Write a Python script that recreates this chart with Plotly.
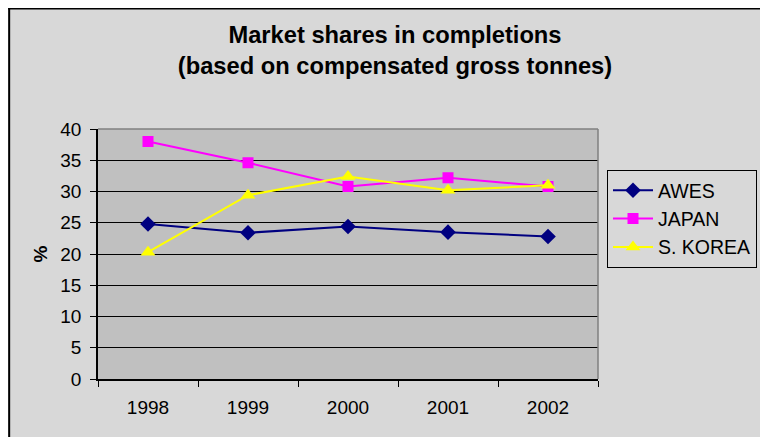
import plotly.graph_objects as go

years = ["1998", "1999", "2000", "2001", "2002"]
awes = [24.8, 23.4, 24.4, 23.5, 22.8]
japan = [38.0, 34.6, 30.8, 32.2, 30.8]
skorea = [20.3, 29.4, 32.4, 30.2, 31.0]
y_ticks = [0, 5, 10, 15, 20, 25, 30, 35, 40]

# page has an 8px body margin; figure sized so it ends at the window edge
W, H = 760, 429
L, R, T, B = 90, 169, 121, 58
PW, PH = W - L - R, H - T - B

def px_x(x):
    return (x - L) / PW

def px_y(y):
    return (H - B - y) / PH

FONT = "Liberation Sans, Arial, sans-serif"

fig = go.Figure()
fig.add_trace(go.Scatter(x=years, y=awes, name="AWES", mode="lines+markers",
                         line=dict(color="#000080", width=2),
                         marker=dict(symbol="diamond", size=12, color="#000080")))
fig.add_trace(go.Scatter(x=years, y=japan, name="JAPAN", mode="lines+markers",
                         line=dict(color="#FF00FF", width=2),
                         marker=dict(symbol="square", size=11, color="#FF00FF")))
fig.add_trace(go.Scatter(x=years, y=skorea, name="S. KOREA", mode="lines+markers",
                         line=dict(color="#FFFF00", width=2),
                         marker=dict(symbol="triangle-up", size=13, color="#FFFF00")))

shapes = [
    dict(type="line", xref="paper", yref="paper", x0=px_x(1), x1=px_x(1), y0=px_y(0), y1=px_y(500),
         line=dict(color="black", width=2), layer="above"),
    dict(type="line", xref="paper", yref="paper", x0=px_x(0), x1=px_x(800), y0=px_y(0.5), y1=px_y(0.5),
         line=dict(color="black", width=2), layer="above"),
    dict(type="line", xref="paper", yref="paper", x0=0, x1=1, y0=1, y1=1,
         line=dict(color="#808080", width=1.5), layer="above"),
    dict(type="line", xref="paper", yref="paper", x0=1, x1=1, y0=0, y1=1,
         line=dict(color="#808080", width=1.5), layer="above"),
]

fig.update_layout(
    width=W, height=H,
    margin=dict(l=L, r=R, t=T, b=B, pad=0),
    paper_bgcolor="#D8D8D8",
    plot_bgcolor="#C0C0C0",
    font=dict(family=FONT, size=19, color="black"),
    title=dict(text="<b>Market shares in completions<br>(based on compensated gross tonnes)</b>",
               x=387 / W, xanchor="center", y=1 - 35 / H, yanchor="middle",
               xref="container", yref="container",
               font=dict(family=FONT, size=23.7, color="black")),
    xaxis=dict(type="category", range=[-0.5, 4.5], tickson="boundaries",
               ticks="outside", ticklen=6, tickcolor="black", tickwidth=1,
               showline=True, linecolor="black", linewidth=1.5,
               showgrid=False, zeroline=False, ticklabelstandoff=10,
               tickfont=dict(family=FONT, size=19)),
    yaxis=dict(range=[0, 40], tickvals=y_ticks, ticks="outside", ticklen=6,
               tickcolor="black", showline=True, linecolor="black", linewidth=1.5,
               showgrid=True, gridcolor="black", gridwidth=1, zeroline=False,
               ticklabelstandoff=5,
               tickfont=dict(family=FONT, size=19),
               title=dict(text="<b>%</b>", font=dict(family=FONT, size=19), standoff=8)),
    legend=dict(x=px_x(599), y=px_y(162), xanchor="left", yanchor="top",
                bgcolor="#D8D8D8", bordercolor="black", borderwidth=1,
                font=dict(family=FONT, size=19.5), itemwidth=40,
                traceorder="normal"),
    shapes=shapes,
    showlegend=True,
)

fig.write_html("out.html")
